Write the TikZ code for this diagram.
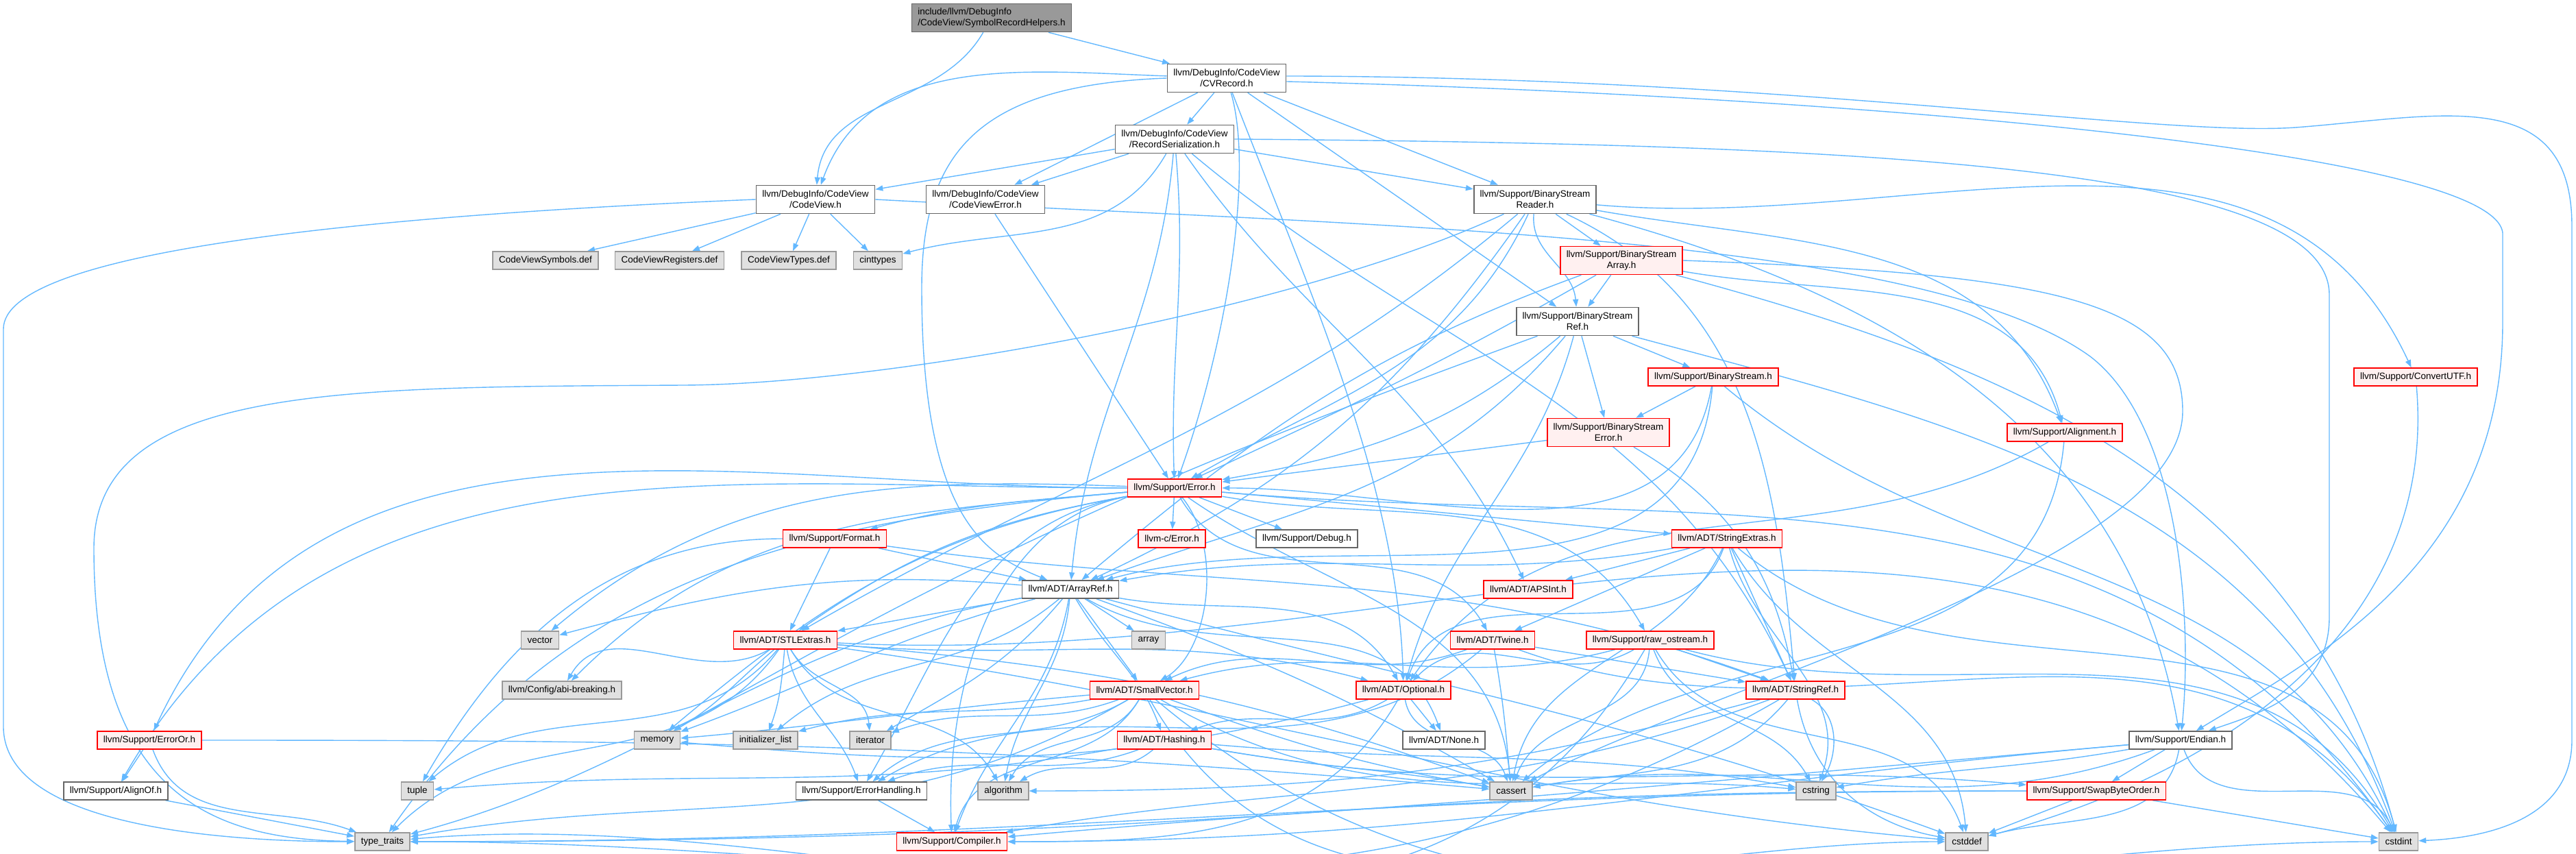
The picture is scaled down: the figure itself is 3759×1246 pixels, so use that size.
\documentclass[tikz,border=0pt]{standalone}
\usepackage{fontspec}
\setmainfont{Liberation Sans}
\usetikzlibrary{arrows.meta, backgrounds}

\definecolor{edgeblue}{HTML}{63B8FF}
\definecolor{plainline}{HTML}{666666}
\definecolor{truncline}{HTML}{FF0000}
\definecolor{truncfill}{HTML}{FFF0F0}
\definecolor{sysline}{HTML}{999999}
\definecolor{sysfill}{HTML}{E0E0E0}
\definecolor{mainline}{HTML}{666666}
\definecolor{mainfill}{HTML}{999999}

\begin{document}
\begin{tikzpicture}[
    x=0.1pt, y=0.1pt,
    file/.style={rectangle, line width=0.16pt, minimum height=2.6pt,
                 inner xsep=0.9pt, inner ysep=0.2pt,
                 font=\fontsize{1.35}{1.6}\selectfont, align=center},
    twoline/.style={minimum height=4.1pt},
    plain/.style={file, draw=plainline, fill=white},
    trunc/.style={file, draw=truncline, fill=truncfill},
    sys/.style={file, draw=sysline, fill=sysfill},
    mainfile/.style={file, twoline, draw=mainline, fill=mainfill, align=left},
    arrow/.style={-{Triangle[length=1.1pt, width=0.8pt]}, draw=edgeblue, line width=0.14pt}
]
\useasboundingbox (0,0) rectangle (3759,-1246);

\node[mainfile] (root) at (1447,-26) {include/llvm/DebugInfo\\/CodeView/SymbolRecordHelpers.h};
\node[plain, twoline] (cvrecord) at (1790,-114) {llvm/DebugInfo/CodeView\\/CVRecord.h};
\node[plain, twoline] (recser) at (1714,-203) {llvm/DebugInfo/CodeView\\/RecordSerialization.h};
\node[plain, twoline] (codeview) at (1190,-291) {llvm/DebugInfo/CodeView\\/CodeView.h};
\node[plain, twoline] (cverror) at (1438,-291) {llvm/DebugInfo/CodeView\\/CodeViewError.h};
\node[plain, twoline] (bsreader) at (2240,-291) {llvm/Support/BinaryStream\\Reader.h};
\node[sys] (cvsym) at (796,-380) {CodeViewSymbols.def};
\node[sys] (cvreg) at (977,-380) {CodeViewRegisters.def};
\node[sys] (cvtypes) at (1151,-380) {CodeViewTypes.def};
\node[sys] (cinttypes) at (1281,-380) {cinttypes};
\node[trunc, twoline] (bsarray) at (2366,-380) {llvm/Support/BinaryStream\\Array.h};
\node[plain, twoline] (bsref) at (2302,-469) {llvm/Support/BinaryStream\\Ref.h};
\node[trunc] (bstream) at (2500,-550) {llvm/Support/BinaryStream.h};
\node[trunc] (convutf) at (3525,-550) {llvm/Support/ConvertUTF.h};
\node[trunc, twoline] (bserror) at (2347,-631) {llvm/Support/BinaryStream\\Error.h};
\node[trunc] (alignment) at (3013,-631) {llvm/Support/Alignment.h};
\node[trunc] (error) at (1714,-712) {llvm/Support/Error.h};
\node[trunc] (format) at (1218,-786) {llvm/Support/Format.h};
\node[trunc] (cerror) at (1710,-786) {llvm-c/Error.h};
\node[plain] (debug) at (1907,-786) {llvm/Support/Debug.h};
\node[trunc] (strext) at (2520,-786) {llvm/ADT/StringExtras.h};
\node[plain] (arrayref) at (1562,-860) {llvm/ADT/ArrayRef.h};
\node[trunc] (apsint) at (2230,-860) {llvm/ADT/APSInt.h};
\node[sys] (vector) at (788,-934) {vector};
\node[trunc] (stlextras) at (1146,-934) {llvm/ADT/STLExtras.h};
\node[sys] (array) at (1676,-934) {array};
\node[trunc] (twine) at (2178,-934) {llvm/ADT/Twine.h};
\node[trunc] (rawos) at (2408,-934) {llvm/Support/raw\_ostream.h};
\node[sys] (abi) at (820,-1007) {llvm/Config/abi-breaking.h};
\node[trunc] (smallvec) at (1670,-1007) {llvm/ADT/SmallVector.h};
\node[trunc] (optional) at (2048,-1007) {llvm/ADT/Optional.h};
\node[trunc] (strref) at (2620,-1007) {llvm/ADT/StringRef.h};
\node[trunc] (erroror) at (218,-1080) {llvm/Support/ErrorOr.h};
\node[sys] (memory) at (959,-1080) {memory};
\node[sys] (initlist) at (1117,-1080) {initializer\_list};
\node[sys] (iterator) at (1270,-1080) {iterator};
\node[trunc] (hashing) at (1699,-1080) {llvm/ADT/Hashing.h};
\node[plain] (none) at (2107,-1080) {llvm/ADT/None.h};
\node[plain] (endian) at (3182,-1080) {llvm/Support/Endian.h};
\node[plain] (alignof) at (169,-1154) {llvm/Support/AlignOf.h};
\node[sys] (tuple) at (609,-1154) {tuple};
\node[plain] (errhandl) at (1257,-1154) {llvm/Support/ErrorHandling.h};
\node[sys] (algorithm) at (1464,-1154) {algorithm};
\node[sys] (cassert) at (2205,-1154) {cassert};
\node[sys] (cstring) at (2650,-1154) {cstring};
\node[trunc] (swap) at (3059,-1154) {llvm/Support/SwapByteOrder.h};
\node[sys] (typetraits) at (558,-1228) {type\_traits};
\node[trunc] (compiler) at (1389,-1228) {llvm/Support/Compiler.h};
\node[sys] (cstddef) at (2870,-1228) {cstddef};
\node[sys] (cstdint) at (3500,-1228) {cstdint};

\begin{scope}[on background layer]
\draw[arrow] (root) -- (cvrecord);
\draw[arrow] (root) to[out=-120,in=85] (codeview);

\draw[arrow] (cvrecord) to[out=178,in=70] (codeview);
\draw[arrow] (cvrecord) -- (cverror);
\draw[arrow] (cvrecord) -- (recser);
\draw[arrow] (cvrecord.west) .. controls (1430,-124) and (1345,-220) .. (1345,-420)
    .. controls (1345,-760) and (1440,-810) .. (arrayref);
\draw[arrow] (cvrecord) .. controls (1830,-250) and (1790,-500) .. (error);
\draw[arrow] (cvrecord) -- (bsref);
\draw[arrow] (cvrecord) -- (bsreader);
\draw[arrow] (cvrecord) .. controls (1900,-400) and (2040,-700) .. (optional);
\draw[arrow] ([yshift=-0.5pt]cvrecord.east) .. controls (2700,-140) and (3640,-220) .. (3652,-340)
    -- (3652,-470) .. controls (3652,-820) and (3380,-960) .. (endian);
\draw[arrow] ([yshift=0.3pt]cvrecord.east) .. controls (2600,-112) and (3150,-200) .. (3350,-186)
    .. controls (3560,-170) and (3753,-120) .. (3753,-330)
    -- (3753,-1080) .. controls (3753,-1190) and (3640,-1222) .. (cstdint);

\draw[arrow] (recser) -- (codeview);
\draw[arrow] (recser) -- (cverror);
\draw[arrow] (recser) to[out=-120,in=15] (cinttypes);
\draw[arrow] (recser) to[out=-95,in=85] (arrayref);
\draw[arrow] (recser) to[out=-85,in=92] (error);
\draw[arrow] (recser) to[out=-55,in=115] (apsint);
\draw[arrow] (recser) to[out=-40,in=115] (strref);
\draw[arrow] (recser) -- (bsreader);
\draw[arrow] (recser.east) .. controls (2700,-210) and (3399,-240) .. (3399,-430)
    -- (3399,-900) .. controls (3399,-1010) and (3300,-1040) .. (endian);

\draw[arrow] (codeview) -- (cvsym);
\draw[arrow] (codeview) -- (cvreg);
\draw[arrow] (codeview) -- (cvtypes);
\draw[arrow] (codeview) -- (cinttypes);
\draw[arrow] (codeview.west) .. controls (500,-316) and (5,-370) .. (5,-480)
    -- (5,-1060) .. controls (5,-1200) and (300,-1228) .. (typetraits);
\draw[arrow] (codeview.east) .. controls (2000,-330) and (2800,-340) .. (3050,-520)
    .. controls (3180,-620) and (3200,-900) .. (endian);

\draw[arrow] (cverror) -- (error);

\draw[arrow] (bsreader) -- (bsarray);
\draw[arrow] (bsreader) to[out=-95,in=95] (bsref);
\draw[arrow] (bsreader) to[out=-125,in=25] (arrayref);
\draw[arrow] (bsreader) to[out=-140,in=30] (stlextras);
\draw[arrow] (bsreader) to[out=-115,in=30] (error);
\draw[arrow] (bsreader) to[out=-10,in=110] (alignment);
\draw[arrow] (bsreader) to[out=-5,in=115] (convutf);
\draw[arrow] (bsreader) to[out=-15,in=100] (endian);
\draw[arrow] (bsreader) to[out=-25,in=95] (strref);
\draw[arrow] (bsreader) .. controls (1900,-450) and (1300,-560) .. (1000,-562)
    .. controls (500,-565) and (137,-560) .. (137,-800)
    .. controls (137,-1150) and (300,-1225) .. (typetraits);

\draw[arrow] (bsarray) -- (bsref);
\draw[arrow] (bsarray) to[out=-160,in=40] (arrayref);
\draw[arrow] (bsarray) to[out=-150,in=25] (error);
\draw[arrow] (bsarray) to[out=-10,in=105] (alignment);
\draw[arrow] (bsarray.east) .. controls (3000,-400) and (3185,-440) .. (3185,-600)
    .. controls (3185,-820) and (2500,-1000) .. (cassert);
\draw[arrow] (bsarray) to[out=-15,in=105] (cstdint);

\draw[arrow] (bsref) -- (bstream);
\draw[arrow] (bsref) -- (bserror);
\draw[arrow] (bsref) to[out=-130,in=20] (arrayref);
\draw[arrow] (bsref) to[out=-140,in=10] (error);
\draw[arrow] (bsref) to[out=-105,in=75] (optional);
\draw[arrow] (bsref) to[out=-15,in=110] (cstdint);
\draw[arrow] (bsref) to[out=-160,in=30] (memory);

\draw[arrow] (bstream) -- (bserror);
\draw[arrow] (bstream) to[out=-100,in=0] (error);
\draw[arrow] (bstream) to[out=-95,in=15] (arrayref);
\draw[arrow] (bstream) to[out=-40,in=115] (cstdint);

\draw[arrow] (bserror) -- (error);
\draw[arrow] (bserror) to[out=-30,in=100] (strref);

\draw[arrow] (alignment) to[out=-150,in=55] (optional);
\draw[arrow] (alignment) to[out=-95,in=40] (cassert);

\draw[arrow] (convutf) to[out=-85,in=15] (cstddef);

\draw[arrow] (error) -- (cerror);
\draw[arrow] (error) -- (debug);
\draw[arrow] (error) to[out=185,in=15] (format);
\draw[arrow] (error) to[out=-5,in=175] (strext);
\draw[arrow] (error) to[out=-60,in=120] (twine);
\draw[arrow] (error) to[out=-10,in=120] (rawos);
\draw[arrow] (error) .. controls (1785,-800) and (1765,-950) .. (smallvec);
\draw[arrow] (error) to[out=190,in=35] (stlextras);
\draw[arrow] (error) to[out=185,in=45] (abi);
\draw[arrow] (error) to[out=180,in=60] (alignof);
\draw[arrow] (error) .. controls (1450,-760) and (1380,-1000) .. (compiler);
\draw[arrow] (error) to[out=-170,in=60] (errhandl);
\draw[arrow] (error) to[out=180,in=65] (erroror);
\draw[arrow] (error) to[out=-35,in=95] (cassert);
\draw[arrow] (error) to[out=-5,in=125] (cstdint);
\draw[arrow] (error) to[out=-170,in=40] (memory);
\draw[arrow] (error) to[out=-175,in=55] (typetraits);
\draw[arrow] (error) to[out=178,in=40] (vector);

\draw[arrow] (format) -- (arrayref);
\draw[arrow] (format) -- (stlextras);
\draw[arrow] (format) to[out=-8,in=160] (strref);
\draw[arrow] (format) to[out=180,in=60] (tuple);

\draw[arrow] (strext) -- (apsint);
\draw[arrow] (strext) to[out=190,in=10] (arrayref);
\draw[arrow] (strext) -- (strref);
\draw[arrow] (strext) -- (twine);
\draw[arrow] (strext) to[out=-110,in=70] (optional);
\draw[arrow] (strext) to[out=-115,in=80] (cassert);
\draw[arrow] (strext) to[out=-60,in=95] (cstddef);
\draw[arrow] (strext) to[out=-40,in=105] (cstdint);
\draw[arrow] (strext) to[out=-75,in=70] (cstring);

\draw[arrow] (arrayref) to[out=-60,in=110] (hashing);
\draw[arrow] (arrayref) to[out=-30,in=110] (none);
\draw[arrow] (arrayref) -- (smallvec);
\draw[arrow] (arrayref) -- (stlextras);
\draw[arrow] (arrayref) to[out=-100,in=70] (compiler);
\draw[arrow] (arrayref) to[out=-95,in=80] (algorithm);
\draw[arrow] (arrayref) -- (array);
\draw[arrow] (arrayref) to[out=-20,in=150] (cassert);
\draw[arrow] (arrayref) to[out=-15,in=160] (cstddef);
\draw[arrow] (arrayref) to[out=-140,in=40] (initlist);
\draw[arrow] (arrayref) to[out=-130,in=30] (iterator);
\draw[arrow] (arrayref) to[out=-165,in=20] (memory);
\draw[arrow] (arrayref) to[out=-170,in=15] (typetraits);
\draw[arrow] (arrayref) to[out=175,in=15] (vector);
\draw[arrow] (arrayref) to[out=-10,in=120] (optional);

\draw[arrow] (stlextras) to[out=-5,in=165] (optional);
\draw[arrow] (stlextras) to[out=-150,in=60] (abi);
\draw[arrow] (stlextras) to[out=-80,in=110] (errhandl);
\draw[arrow] (stlextras) to[out=-60,in=120] (algorithm);
\draw[arrow] (stlextras) to[out=-5,in=160] (cassert);
\draw[arrow] (stlextras) to[out=-8,in=175] (cstddef);
\draw[arrow] (stlextras) to[out=-3,in=130] (cstdint);
\draw[arrow] (stlextras) to[out=-95,in=70] (initlist);
\draw[arrow] (stlextras) to[out=-60,in=95] (iterator);
\draw[arrow] (stlextras) to[out=-140,in=30] (memory);
\draw[arrow] (stlextras) to[out=-130,in=40] (tuple);
\draw[arrow] (stlextras) to[out=-125,in=45] (typetraits);

\draw[arrow] (smallvec) to[out=-120,in=75] (compiler);
\draw[arrow] (smallvec) to[out=-150,in=40] (errhandl);
\draw[arrow] (smallvec) to[out=-120,in=60] (algorithm);
\draw[arrow] (smallvec) to[out=-20,in=170] (cassert);
\draw[arrow] (smallvec) to[out=-60,in=180] (cstddef);
\draw[arrow] (smallvec) to[out=-40,in=180] (cstdint);
\draw[arrow] (smallvec) to[out=-30,in=175] (cstring);
\draw[arrow] (smallvec) to[out=-170,in=15] (initlist);
\draw[arrow] (smallvec) to[out=-160,in=20] (iterator);
\draw[arrow] (smallvec) to[out=-175,in=5] (memory);
\draw[arrow] (smallvec) to[out=-150,in=10] (typetraits);

\draw[arrow] (optional) -- (none);
\draw[arrow] (optional) to[out=-150,in=20] (hashing);
\draw[arrow] (optional) to[out=-120,in=0] (compiler);
\draw[arrow] (optional) to[out=-80,in=110] (cassert);
\draw[arrow] (optional) to[out=-165,in=-5] (memory);

\draw[arrow] (hashing) to[out=-160,in=20] (errhandl);
\draw[arrow] (hashing) to[out=-10,in=175] (swap);
\draw[arrow] (hashing) to[out=-140,in=30] (algorithm);
\draw[arrow] (hashing) to[out=-10,in=170] (cassert);
\draw[arrow] (hashing) to[out=-5,in=170] (cstring);
\draw[arrow] (hashing) to[out=-170,in=5] (tuple);

\draw[arrow] (twine) to[out=-160,in=25] (smallvec);
\draw[arrow] (twine) -- (strref);
\draw[arrow] (twine) to[out=-140,in=30] (errhandl);
\draw[arrow] (twine) to[out=-80,in=95] (cassert);
\draw[arrow] (twine) to[out=-20,in=125] (cstdint);

\draw[arrow] (rawos) to[out=-165,in=15] (smallvec);
\draw[arrow] (rawos) to[out=-150,in=45] (optional);
\draw[arrow] (rawos) -- (strref);
\draw[arrow] (rawos) to[out=-95,in=70] (cassert);
\draw[arrow] (rawos) to[out=-60,in=110] (cstddef);
\draw[arrow] (rawos) to[out=-15,in=120] (cstdint);
\draw[arrow] (rawos) to[out=-70,in=120] (cstring);
\draw[arrow] (rawos) to[out=-120,in=5] (typetraits);

\draw[arrow] (strref) to[out=-160,in=10] (compiler);
\draw[arrow] (strref) to[out=-165,in=0] (algorithm);
\draw[arrow] (strref) to[out=-130,in=10] (cassert);
\draw[arrow] (strref) to[out=-80,in=170] (cstddef);
\draw[arrow] (strref) to[out=-30,in=60] (cstring);
\draw[arrow] (strref) to[out=-150,in=0] (typetraits);

\draw[arrow] (erroror) -- (alignof);
\draw[arrow] (erroror) to[out=-70,in=160] (typetraits);
\draw[arrow] (erroror) to[out=0,in=175] (cassert);

\draw[arrow] (alignof) -- (typetraits);
\draw[arrow] (errhandl) -- (compiler);

\draw[arrow] (endian) -- (swap);
\draw[arrow] (endian) to[out=185,in=0] (compiler);
\draw[arrow] (endian) to[out=-160,in=10] (cassert);
\draw[arrow] (endian) to[out=-100,in=15] (cstddef);
\draw[arrow] (endian) to[out=-70,in=115] (cstdint);
\draw[arrow] (endian) to[out=190,in=10] (cstring);
\draw[arrow] (endian) to[out=185,in=0] (typetraits);

\draw[arrow] (swap) to[out=180,in=5] (compiler);
\draw[arrow] (swap) -- (cstddef);
\draw[arrow] (swap) -- (cstdint);
\draw[arrow] (swap) to[out=180,in=0] (typetraits);
\end{scope}
\end{tikzpicture}
\end{document}
